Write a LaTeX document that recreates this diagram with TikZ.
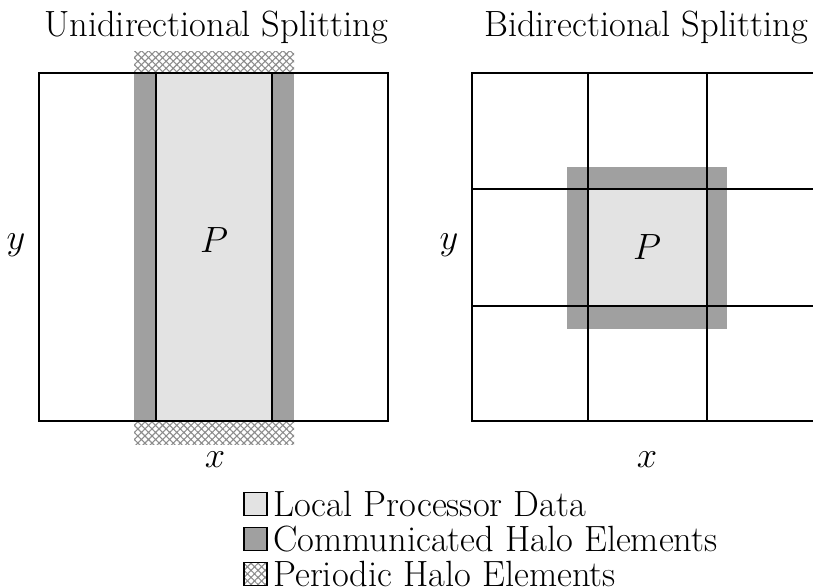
\documentclass[tikz,border=0pt]{standalone}
\usetikzlibrary{patterns.meta}
\definecolor{lightg}{HTML}{E3E3E3}
\definecolor{darkg}{HTML}{A0A0A0}
\tikzset{
  grid line/.style={line width=2pt, black},
  hatchfill/.style={pattern={Hatch[angle=45,distance=5pt,line width=1.1pt]}, pattern color=black!45},
  big label/.style={font=\fontsize{36.5}{40}\selectfont, inner sep=0pt},
  math label/.style={font=\fontsize{24.88}{30}\selectfont, inner sep=0pt, scale=1.467},
  legend text/.style={big label, text height=24pt, text depth=0pt},
  legend box/.style={draw=black, line width=1.8pt, minimum width=23pt, minimum height=23pt, inner sep=0pt},
}
\begin{document}
\begin{tikzpicture}[x=1pt,y=-1pt]
\useasboundingbox (0,0) rectangle (813,588);
% ---- left panel ----
\fill[hatchfill] (134,52) rectangle (294,73);
\fill[hatchfill] (134,421) rectangle (294,444);
\fill[darkg] (134,73) rectangle (294,421);
\fill[lightg] (156,73) rectangle (272,421);
\draw[grid line] (39,73) rectangle (388,421);
\draw[grid line] (156,73) -- (156,421);
\draw[grid line] (272,73) -- (272,421);
\node[big label] (t1) at (216,27) {Unidirectional Splitting};
\node[math label] (p1) at (214,240) {$P$};
\node[math label] (y1) at (16,245) {$y$};
\node[math label] (x1) at (215,460) {$x$};
% ---- right panel ----
\fill[darkg] (567,167) rectangle (727,329);
\fill[lightg] (588,189) rectangle (707,306);
\begin{scope}
\clip (0,0) rectangle (813,588);
\draw[grid line] (472,73) rectangle (826,421);
\draw[grid line] (472,189) -- (826,189);
\draw[grid line] (472,306) -- (826,306);
\draw[grid line] (588,73) -- (588,421);
\draw[grid line] (707,73) -- (707,421);
\end{scope}
\node[big label] (t2) at (646,27) {Bidirectional Splitting};
\node[math label] (p2) at (647,247) {$P$};
\node[math label] (y2) at (449,245) {$y$};
\node[math label] (x2) at (647,460) {$x$};
% ---- legend ----
\node[legend box, fill=lightg] (l1) at (255.5,504) {};
\node[legend box, fill=darkg] (l2) at (255.5,539) {};
\node[legend box, hatchfill] (l3) at (255.5,574) {};
\node[legend text, anchor=west] (tl1) at (273,504) {Local Processor Data};
\node[legend text, anchor=west] (tl2) at (273,539) {Communicated Halo Elements};
\node[legend text, anchor=west] (tl3) at (273,574) {Periodic Halo Elements};
\end{tikzpicture}
\end{document}
